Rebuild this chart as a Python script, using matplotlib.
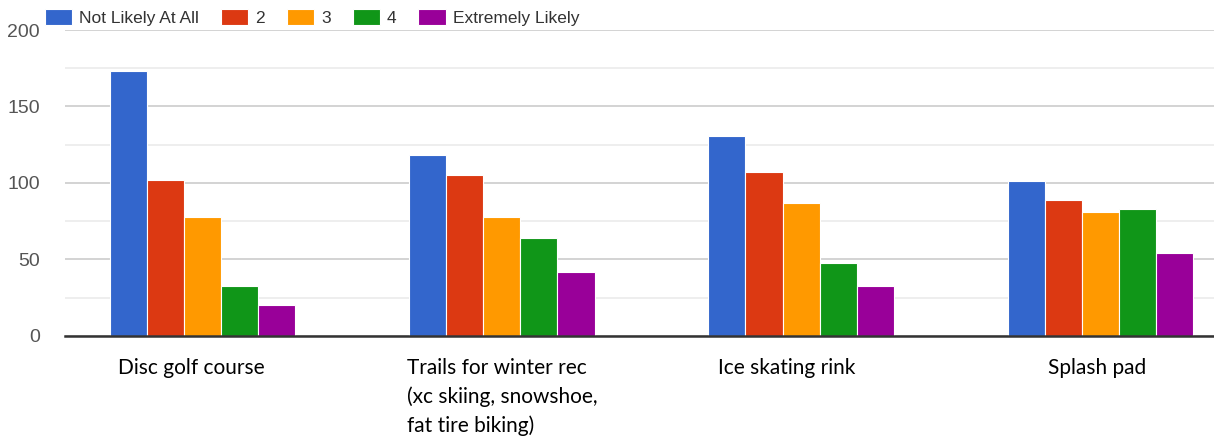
import numpy as np
import matplotlib
matplotlib.use("Agg")
import matplotlib.pyplot as plt
from matplotlib.ticker import MultipleLocator
from matplotlib.transforms import ScaledTranslation

categories = ["Disc golf course",
              "Trails for winter rec\n(xc skiing, snowshoe,\nfat tire biking)",
              "Ice skating rink",
              "Splash pad"]
series_names = ["Not Likely At All", "2", "3", "4", "Extremely Likely"]
not_likely = [173, 118, 131, 101]
two = [102, 105, 107, 89]
three = [78, 78, 87, 81]
four = [33, 64, 48, 83]
extremely = [20, 42, 33, 54]
series = [not_likely, two, three, four, extremely]
colors = ["#3366cc", "#dc3912", "#ff9900", "#109618", "#990099"]

arial = ["Liberation Sans", "DejaVu Sans"]

fig = plt.figure(figsize=(12.14, 4.38), dpi=100)
ax = fig.add_axes([0.0535, 0.2329, 0.9465, 0.6986])

x = np.arange(len(categories))
w = 0.124
for k, (vals, name, c) in enumerate(zip(series, series_names, colors)):
    ax.bar(x + (k - 2) * w, vals, width=w, color=c, edgecolor="white",
           linewidth=0.8, label=name, zorder=3)

ax.set_xlim(-0.46, 3.38)
ax.set_ylim(0, 200)
ax.yaxis.set_major_locator(MultipleLocator(50))
ax.yaxis.set_minor_locator(MultipleLocator(25))
ax.grid(axis="y", which="major", color="#cccccc", linewidth=1.2, zorder=0)
ax.grid(axis="y", which="minor", color="#ebebeb", linewidth=1.2, zorder=0)
for s in ["top", "right", "left"]:
    ax.spines[s].set_visible(False)
ax.spines["bottom"].set_color("#333333")
ax.spines["bottom"].set_linewidth(1.8)
ax.spines["bottom"].set_zorder(4)

ax.set_xticks(x)
ax.set_xticklabels(categories, fontsize=15, family=["Lato", "DejaVu Sans"],
                   multialignment="left", linespacing=1.5, va="top")
ax.tick_params(axis="x", length=0, pad=16, colors="black")
ax.tick_params(axis="y", which="both", length=0, pad=18, labelsize=14,
               labelcolor="#555555")
for lab in ax.get_yticklabels():
    lab.set_family(arial)

# small horizontal nudges so the labels sit where the original has them
nudges = [-11, 0, -14, -3]
for lab, dx in zip(ax.get_xticklabels(), nudges):
    lab.set_transform(lab.get_transform() + ScaledTranslation(dx / 100, 0, fig.dpi_scale_trans))

leg = fig.legend(loc="upper left", bbox_to_anchor=(0.0297, 1.0), ncol=5,
                 frameon=False, handlelength=1.56, handleheight=1.08,
                 handletextpad=0.42, columnspacing=1.26, borderaxespad=0.1,
                 prop={"size": 12.5, "family": arial})
for t in leg.get_texts():
    t.set_color("#333333")

fig.savefig("out.png", dpi=100)
